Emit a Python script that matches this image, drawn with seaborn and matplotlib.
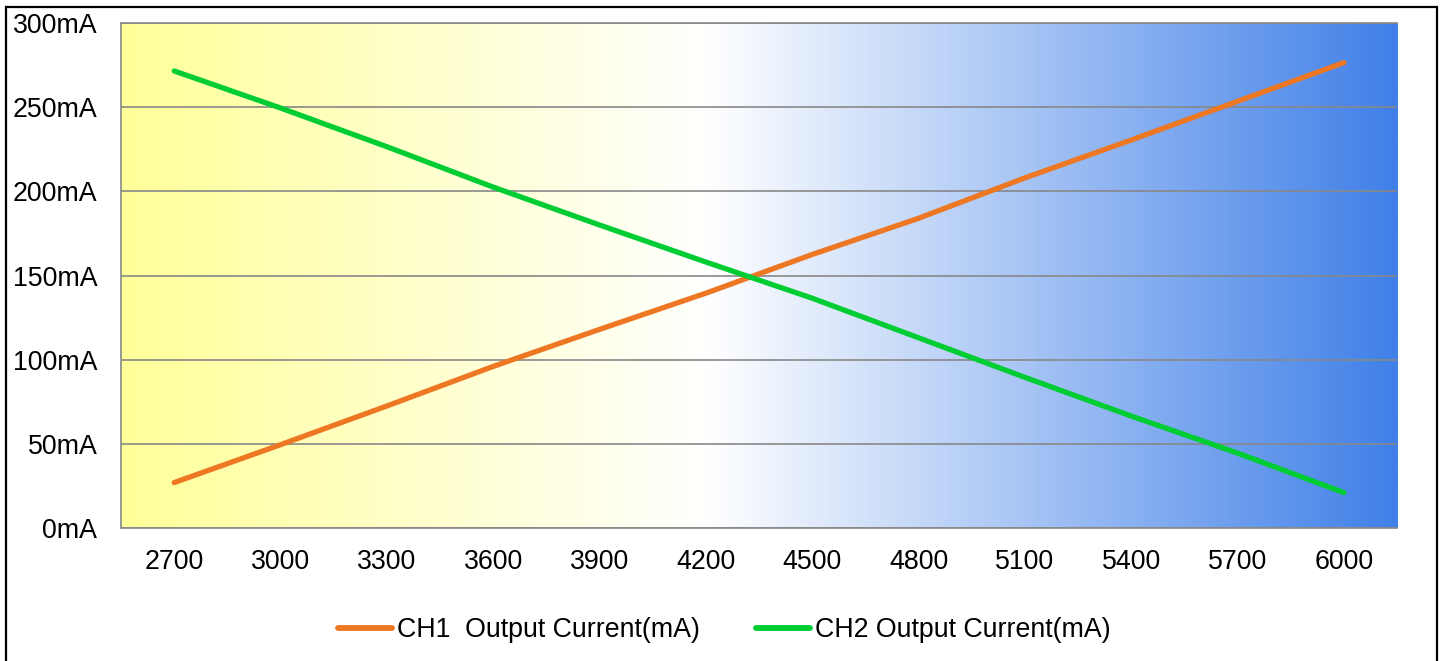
import numpy as np
import pandas as pd
import matplotlib
matplotlib.use("Agg")
import matplotlib.pyplot as plt
import seaborn as sns
from matplotlib.colors import LinearSegmentedColormap
from matplotlib.patches import Rectangle

# ==========================================================
# DATA
# ==========================================================

cct = ["2700", "3000", "3300", "3600", "3900", "4200",
       "4500", "4800", "5100", "5400", "5700", "6000"]

ch1_current = [27, 49.5, 72.5, 96, 118, 139.5, 162.5, 184, 208, 230.5, 253.5, 276.5]
ch2_current = [271.5, 249.5, 226.5, 202.5, 180, 158, 136.5, 113, 89.5, 66.5, 44.5, 21]

series_names = ["CH1  Output Current(mA)", "CH2 Output Current(mA)"]
series_colors = ["#ED7722", "#00CC33"]

y_ticks = [0, 50, 100, 150, 200, 250, 300]

df = pd.DataFrame({
    "CCT": cct * 2,
    "Current": ch1_current + ch2_current,
    "Series": [series_names[0]] * len(cct) + [series_names[1]] * len(cct),
})

# ==========================================================
# STYLE
# ==========================================================

sns.set_style("white")
plt.rcParams["font.family"] = ["Liberation Sans", "DejaVu Sans"]

FS = 19.3

fig = plt.figure(figsize=(14.43, 6.61), dpi=100)
ax = fig.add_axes([0.0839, 0.2012, 0.8843, 0.764])

# gradient background (yellow -> white -> blue)
grad_cmap = LinearSegmentedColormap.from_list(
    "warm_cool",
    [(0.0, "#FFFF99"), (0.46, "#FFFFFF"), (1.0, "#4080E8")]
)
grad = np.linspace(0, 1, 512).reshape(1, -1)
ax.imshow(grad, extent=[-0.5, len(cct) - 0.5, 0, 300],
          aspect="auto", cmap=grad_cmap, zorder=0, interpolation="bicubic")

# lines
sns.lineplot(
    data=df,
    x="CCT",
    y="Current",
    hue="Series",
    palette=series_colors,
    linewidth=3.8,
    ax=ax,
    sort=False,
    zorder=3,
)
for line in ax.get_lines():
    line.set_solid_capstyle("round")

# ==========================================================
# AXES
# ==========================================================

ax.set_xlim(-0.5, len(cct) - 0.5)
ax.set_ylim(0, 300)
ax.set_yticks(y_ticks)
ax.set_yticklabels([f"{v}mA" for v in y_ticks])
ax.set_xlabel("")
ax.set_ylabel("")

ax.yaxis.grid(True, color="#888888", linewidth=1.2)
ax.xaxis.grid(False)
ax.set_axisbelow(True)

ax.tick_params(axis="both", length=0, labelsize=FS, colors="black")
ax.tick_params(axis="y", pad=17)
ax.tick_params(axis="x", pad=15)

for side in ["left", "bottom", "top"]:
    ax.spines[side].set_visible(True)
    ax.spines[side].set_color("#888888")
    ax.spines[side].set_linewidth(1.2)
ax.spines["right"].set_visible(False)

# legend
handles, labels = ax.get_legend_handles_labels()
ax.legend_.remove()
leg = fig.legend(
    handles, labels,
    loc="center",
    bbox_to_anchor=(0.502, 0.047),
    ncol=2,
    frameon=False,
    fontsize=FS,
    handlelength=2.0,
    handletextpad=0.19,
    columnspacing=2.1,
    labelcolor="black",
)
for h in leg.get_lines():
    h.set_linewidth(4.2)

# outer frame
frame = Rectangle((6 / 1443, -0.02), 1431 / 1443, 1 - 7 / 661 + 0.02,
                  transform=fig.transFigure, fill=False,
                  edgecolor="black", linewidth=1.6, clip_on=False)
fig.patches.append(frame)

plt.savefig("out.png", dpi=100)
